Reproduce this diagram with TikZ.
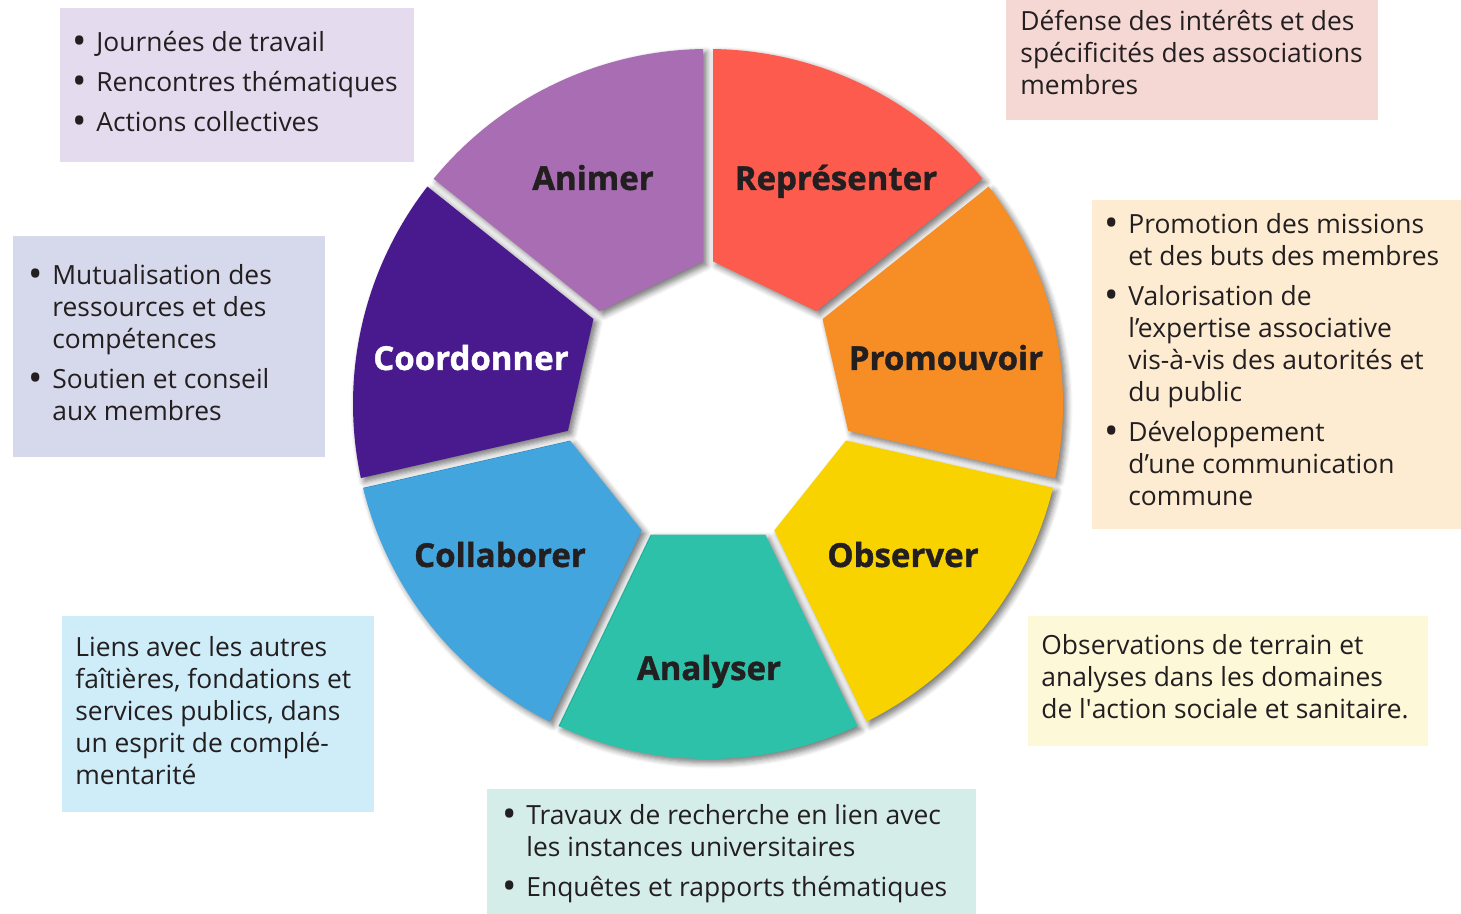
\documentclass[tikz,border=0pt]{standalone}
\usepackage{fontspec}
\setmainfont{Open Sans}
\newfontfamily\heavyfont{Open Sans}[BoldFeatures={FakeBold=1.2}]
\usetikzlibrary{calc,shadows.blur}
\definecolor{ink}{HTML}{231F20}
\definecolor{repr}{HTML}{FD5B4E}
\definecolor{promo}{HTML}{F68E25}
\definecolor{obs}{HTML}{F8D300}
\definecolor{anal}{HTML}{2EC1A9}
\definecolor{collab}{HTML}{42A5DD}
\definecolor{coord}{HTML}{481A8E}
\definecolor{anim}{HTML}{A86DB2}
\definecolor{animbg}{HTML}{E4DCEE}
\definecolor{reprbg}{HTML}{F5D8D4}
\definecolor{promobg}{HTML}{FDEBD2}
\definecolor{coordbg}{HTML}{D6D8EB}
\definecolor{collabbg}{HTML}{CEEDF9}
\definecolor{obsbg}{HTML}{FDF8D8}
\definecolor{analbg}{HTML}{D4EDE8}
\newcommand{\bl}{\makebox[10.5pt][l]{\hspace{-1.5pt}\raisebox{-1.3pt}{\scalebox{1.45}{\textbullet}}}}
\tikzset{
  seg/.style={blur shadow={shadow xshift=1.8pt, shadow yshift=-1.8pt, shadow blur radius=3pt, shadow blur steps=6, shadow opacity=55}},
  lbl/.style={font=\fontsize{16.5}{18}\selectfont\heavyfont\bfseries, text=ink, anchor=base, inner sep=0pt},
  txt/.style={font=\fontsize{13.2}{16}\selectfont, text=ink, anchor=base west, inner sep=0pt},
}
\begin{document}
\begin{tikzpicture}[x=0.5pt,y=0.5pt]
      \useasboundingbox (0,0) rectangle (1461,914);
      \fill[animbg] (60,752) rectangle (414,906);
      \fill[reprbg] (1006,794) rectangle (1378,914);
      \fill[promobg] (1092,385) rectangle (1461,714);
      \fill[coordbg] (13,457) rectangle (325,678);
      \fill[collabbg] (62,102) rectangle (374,298);
      \fill[obsbg] (1028,168) rectangle (1428,298);
      \fill[analbg] (487,0) rectangle (976,125);
      \begin{scope}[shift={(708,510)}]
        \fill[seg, repr] ($(38.571:145)+(154.286:5.55)$) -- (39.378:355)
          arc[start angle=39.378, end angle=89.193, radius=355] -- ($(90:145)+(-25.714:5.55)$) -- cycle;
        \fill[seg, promo] ($(-12.857:145)+(102.857:5.55)$) -- (-12.050:355)
          arc[start angle=-12.050, end angle=37.764, radius=355] -- ($(38.571:145)+(-77.143:5.55)$) -- cycle;
        \fill[seg, obs] ($(-64.286:145)+(51.429:5.55)$) -- (-63.479:355)
          arc[start angle=-63.479, end angle=-13.664, radius=355] -- ($(-12.857:145)+(-128.571:5.55)$) -- cycle;
        \fill[seg, anal] ($(-115.714:145)+(0:5.55)$) -- (-114.907:355)
          arc[start angle=-114.907, end angle=-65.093, radius=355] -- ($(-64.286:145)+(180:5.55)$) -- cycle;
        \fill[seg, collab] ($(-167.143:145)+(-51.429:5.55)$) -- (-166.336:355)
          arc[start angle=-166.336, end angle=-116.521, radius=355] -- ($(-115.714:145)+(128.571:5.55)$) -- cycle;
        \fill[seg, coord] ($(141.429:145)+(257.143:5.55)$) -- (142.236:355)
          arc[start angle=142.236, end angle=192.050, radius=355] -- ($(192.857:145)+(77.143:5.55)$) -- cycle;
        \fill[seg, anim] ($(90:145)+(205.714:5.55)$) -- (90.807:355)
          arc[start angle=90.807, end angle=140.621, radius=355] -- ($(141.429:145)+(25.714:5.55)$) -- cycle;
      \end{scope}
      \node[lbl] (animer) at (593,724) {Animer};
      \node[lbl] (representer) at (836,724) {Représenter};
      \node[lbl, text=white] (coordonner) at (471,544) {Coordonner};
      \node[lbl] (promouvoir) at (946,544) {Promouvoir};
      \node[lbl] (collaborer) at (500,347) {Collaborer};
      \node[lbl] (observer) at (903,347) {Observer};
      \node[lbl] (analyser) at (709,234) {Analyser};
      \node[txt] (animtxt) at (75,862) {\begin{tabular}[t]{@{}l@{}l@{}}
        \bl & Journées de travail\\[4pt]
        \bl & Rencontres thématiques\\[4pt]
        \bl & Actions collectives
      \end{tabular}};
      \node[txt] (reprtxt) at (1020,883) {\begin{tabular}[t]{@{}l@{}}
        Défense des intérêts et des\\
        spécificités des associations\\
        membres
      \end{tabular}};
      \node[txt] (promotxt) at (1107,680) {\begin{tabular}[t]{@{}l@{}l@{}}
        \bl & Promotion des missions\\
            & et des buts des membres\\[4pt]
        \bl & Valorisation de\\
            & l’expertise associative\\
            & vis-à-vis des autorités et\\
            & du public\\[4pt]
        \bl & Développement\\
            & d’une communication\\
            & commune
      \end{tabular}};
      \node[txt] (coordtxt) at (31,629) {\begin{tabular}[t]{@{}l@{}l@{}}
        \bl & Mutualisation des\\
            & ressources et des\\
            & compétences\\[4pt]
        \bl & Soutien et conseil\\
            & aux membres
      \end{tabular}};
      \node[txt] (collabtxt) at (75,257) {\begin{tabular}[t]{@{}l@{}}
        Liens avec les autres\\
        faîtières, fondations et\\
        services publics, dans\\
        un esprit de complé-\\
        mentarité
      \end{tabular}};
      \node[txt] (obstxt) at (1041,259) {\begin{tabular}[t]{@{}l@{}}
        Observations de terrain et\\
        analyses dans les domaines\\
        de l\textquotesingle action sociale et sanitaire.
      \end{tabular}};
      \node[txt] (analtxt) at (505,89) {\begin{tabular}[t]{@{}l@{}l@{}}
        \bl & Travaux de recherche en lien avec\\
            & les instances universitaires\\[4pt]
        \bl & Enquêtes et rapports thématiques
      \end{tabular}};
\end{tikzpicture}
\end{document}
